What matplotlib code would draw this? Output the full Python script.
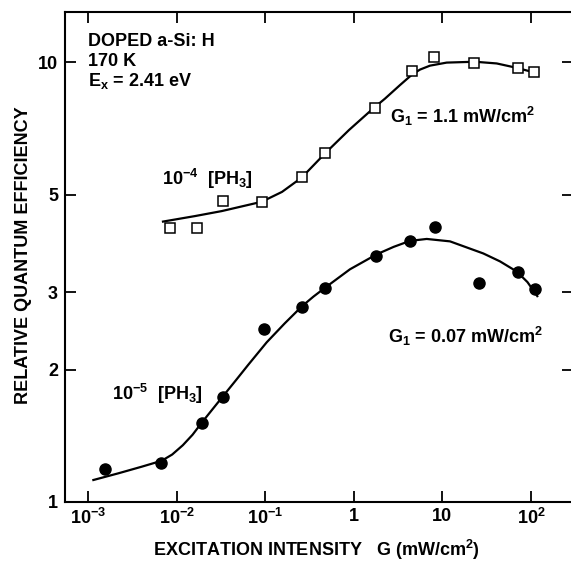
import numpy as np
import matplotlib.pyplot as plt

plt.rcParams['font.family'] = 'Liberation Sans'
plt.rcParams['font.weight'] = 'bold'
plt.rcParams['mathtext.fontset'] = 'custom'
plt.rcParams['mathtext.rm'] = 'Liberation Sans:bold'
plt.rcParams['mathtext.it'] = 'Liberation Sans:bold'
plt.rcParams['mathtext.bf'] = 'Liberation Sans:bold'
plt.rcParams['mathtext.default'] = 'rm'

# 10^-4 [PH3] measured points (open squares)
g4 = [0.0084, 0.0171, 0.0331, 0.092, 0.262, 0.476, 1.72, 4.54, 8.04, 22.9, 70.8, 109]
q4 = [4.19, 4.19, 4.83, 4.81, 5.49, 6.20, 7.87, 9.56, 10.28, 9.96, 9.68, 9.49]

# 10^-5 [PH3] measured points (filled circles)
g5 = [0.00156, 0.00667, 0.0192, 0.0331, 0.0977, 0.260, 0.473, 1.78, 4.31, 8.31, 26.1, 70.8, 111]
q5 = [1.187, 1.228, 1.514, 1.735, 2.47, 2.78, 3.07, 3.62, 3.92, 4.22, 3.15, 3.34, 3.05]

# fitted curves
fit4_g = [0.00702, 0.01614, 0.0323, 0.0913, 0.1549, 0.2582, 0.4732, 0.8831, 1.660, 2.249,
          3.319, 4.539, 5.585, 7.244, 11.17, 23.33, 41.02, 69.02, 108.1]
fit4_q = [4.34, 4.467, 4.585, 4.814, 5.070, 5.464, 6.201, 7.009, 7.851, 8.260,
          8.866, 9.368, 9.616, 9.817, 9.975, 10.02, 9.931, 9.705, 9.476]

fit5_g = [0.00115, 0.00220, 0.00404, 0.00679, 0.00891, 0.01175, 0.01514, 0.01919, 0.02512,
          0.0331, 0.04677, 0.0644, 0.1040, 0.1660, 0.2600, 0.3508, 0.4732, 0.9057, 1.811,
          2.818, 4.305, 6.653, 12.19, 28.97, 44.67, 69.02, 91.2, 117.8]
fit5_q = [1.122, 1.162, 1.203, 1.241, 1.282, 1.346, 1.422, 1.514, 1.620,
          1.736, 1.892, 2.051, 2.307, 2.547, 2.786, 2.931, 3.069, 3.381, 3.656,
          3.802, 3.923, 3.963, 3.913, 3.673, 3.524, 3.342, 3.162, 2.938]

xticks = [1e-3, 1e-2, 1e-1, 1, 10, 100]
xlabels = ['10$^{-3}$', '10$^{-2}$', '10$^{-1}$', '1', '10', '10$^{2}$']
yticks = [1, 2, 3, 5, 10]
ylabels = ['1', '2', '3', '5', '10']

fs = 13

fig = plt.figure(figsize=(5.71, 5.64), dpi=100)
ax = fig.add_axes([65/571., 62/564., 508/571., 490/564.])

ax.plot(fit4_g, fit4_q, color='black', lw=1.6)
ax.plot(fit5_g, fit5_q, color='black', lw=1.6)
ax.plot(g4, q4, 's', ms=7.5, mfc='white', mec='black', mew=1.1)
ax.plot(g5, q5, 'o', ms=8, mfc='black', mec='black')

ax.set_xscale('log')
ax.set_yscale('log')
ax.set_xlim(5.5e-4, 298)
ax.set_ylim(1, 13.0)

ax.set_xticks(xticks)
ax.set_xticklabels(xlabels)
ax.set_yticks(yticks)
ax.set_yticklabels(ylabels)
ax.minorticks_off()
ax.tick_params(axis='both', which='major', direction='in', length=8, width=1.3,
               labelsize=fs, top=True, right=True)
ax.tick_params(axis='x', pad=4)
ax.tick_params(axis='y', pad=5)
for s in ax.spines.values():
    s.set_linewidth(1.5)

ax.text(0.001, 10.89, 'DOPED a-Si: H', fontsize=fs, va='baseline')
ax.text(0.001, 9.79, '170 K', fontsize=fs, va='baseline')
ax.text(0.001, 8.82, 'E$_{x}$ = 2.41 eV', fontsize=fs, va='baseline')

ax.text(0.00679, 5.25, '10$^{-4}$  [PH$_3$]', fontsize=fs, va='baseline')
ax.text(2.56, 7.26, 'G$_1$ = 1.1 mW/cm$^2$', fontsize=fs, va='baseline')
ax.text(0.00185, 1.706, '10$^{-5}$  [PH$_3$]', fontsize=fs, va='baseline')
ax.text(2.43, 2.30, 'G$_1$ = 0.07 mW/cm$^2$', fontsize=fs, va='baseline')

fig.text(316/571., 1 - 550/564., 'EXCITATION INTENSITY   G (mW/cm$^2$)',
         fontsize=fs, ha='center', va='center')
fig.text(24/571., 1 - 255/564., 'RELATIVE QUANTUM EFFICIENCY',
         fontsize=fs, ha='center', va='center', rotation=90)

fig.savefig('out.png', dpi=100)
